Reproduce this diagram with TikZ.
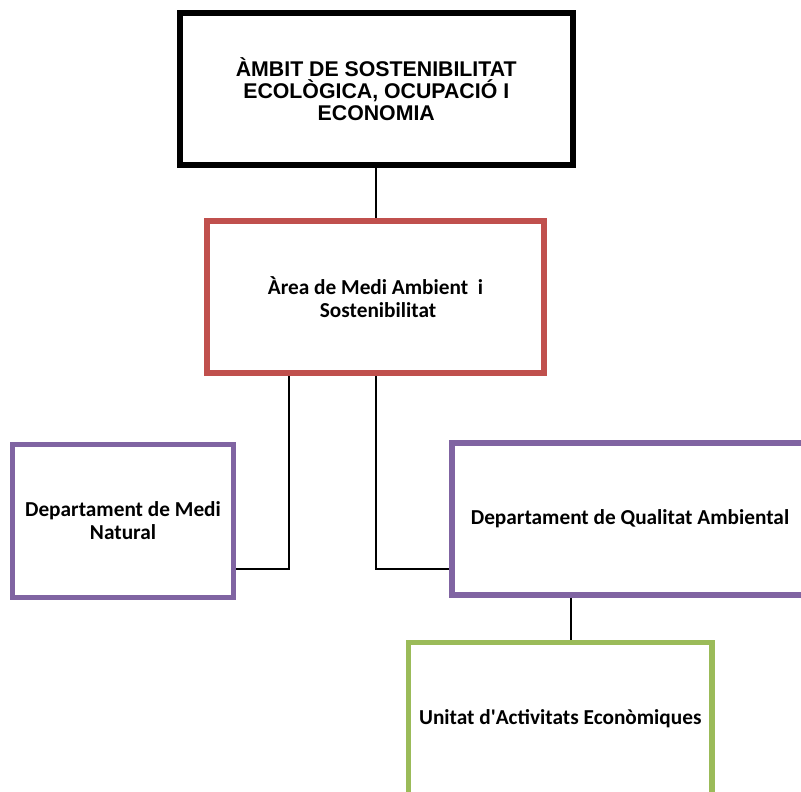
\documentclass[tikz,border=0pt]{standalone}
\usepackage{fontspec}
\setmainfont{Carlito}
\newfontfamily\arialfont{Liberation Sans}
\definecolor{boxred}{HTML}{C0504D}
\definecolor{boxpurple}{HTML}{8064A2}
\definecolor{boxgreen}{HTML}{9BBB59}
\tikzset{
  orgbox/.style={draw, fill=white, inner sep=0pt, align=center, line width=5.5pt},
  topbox/.style={orgbox, draw=black, line width=6pt,
     font=\arialfont\bfseries\fontsize{21.3}{21.7}\selectfont},
  areabox/.style={orgbox, draw=boxred, font=\bfseries\fontsize{21.3}{22.5}\selectfont},
  deptbox/.style={orgbox, draw=boxpurple, font=\bfseries\fontsize{21.3}{23}\selectfont},
  unitbox/.style={orgbox, draw=boxgreen, font=\bfseries\fontsize{21.3}{23}\selectfont},
  link/.style={draw=black, line width=2pt}
}
\begin{document}
\begin{tikzpicture}[x=1pt, y=-1pt]
\useasboundingbox (0,0) rectangle (801,792);
\clip (0,0) rectangle (801,792);
\fill[white] (0,0) rectangle (801,792);

\node[topbox, minimum width=392.5pt, minimum height=151.5pt] (ambit) at (376.25,89.25)
  {ÀMBIT DE SOSTENIBILITAT\\ECOLÒGICA, OCUPACIÓ I\\ECONOMIA};
\node[areabox, minimum width=337pt, minimum height=152pt] (area) at (375.5,297)
  {Àrea de Medi Ambient~~i\\\hspace*{5pt}Sostenibilitat};
\node[deptbox, minimum width=221pt, minimum height=153pt] (natural) at (123,521)
  {Departament de Medi\\Natural};
\node[deptbox, minimum width=356pt, minimum height=152pt] (qualitat) at (630,519)
  {Departament de Qualitat Ambiental};
\node[unitbox, minimum width=303.3pt, minimum height=152pt] (unitat) at (560.3,718.5)
  {Unitat d\textquotesingle Activitats Econòmiques};

\coordinate (j0) at (376,0);
\coordinate (j1) at (289,569);
\coordinate (j2) at (376,569);
\coordinate (j3) at (571,0);

\draw[link] (ambit.south -| j0) -- (area.north -| j0);
\draw[link] (area.south -| j1) -- (j1) -- (j1 -| natural.east);
\draw[link] (area.south -| j2) -- (j2) -- (j2 -| qualitat.west);
\draw[link] (qualitat.south -| j3) -- (unitat.north -| j3);
\end{tikzpicture}
\end{document}
